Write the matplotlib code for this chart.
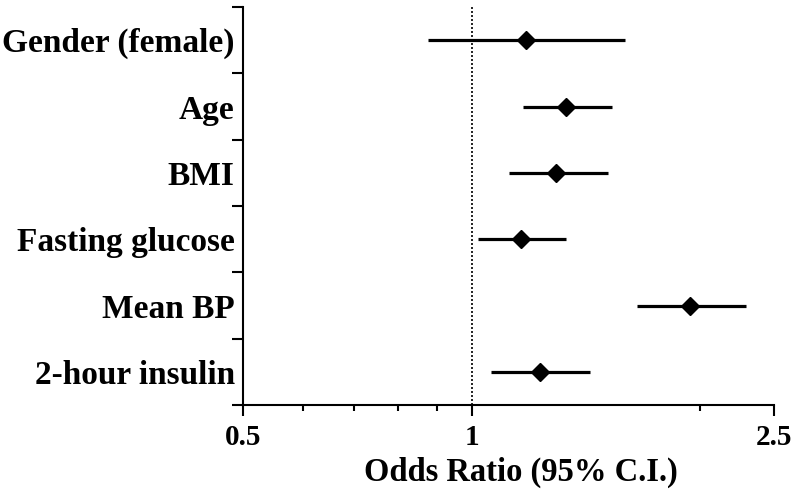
import matplotlib
matplotlib.use("Agg")
import matplotlib.pyplot as plt
from matplotlib.ticker import FixedLocator, NullFormatter
import numpy as np

# odds ratios with 95% confidence interval
labels = ["Gender (female)", "Age", "BMI", "Fasting glucose", "Mean BP", "2-hour insulin"]
odds = [1.18, 1.33, 1.29, 1.16, 1.94, 1.23]
lower = [0.875, 1.17, 1.12, 1.02, 1.65, 1.06]
upper = [1.59, 1.53, 1.51, 1.33, 2.30, 1.43]

xmajor = [0.5, 1, 2.5]
xminor = [0.6, 0.7, 0.8, 0.9, 2]

plt.rcParams["font.family"] = ["Liberation Serif", "DejaVu Serif"]
plt.rcParams["font.weight"] = "bold"

fig = plt.figure(figsize=(8, 5.04), dpi=100)
ax = fig.add_axes([243 / 800, 99 / 504, 531 / 800, 398 / 504])

n = len(labels)
ypos = n - 0.5 - np.arange(n)
odds = np.array(odds)
lower = np.array(lower)
upper = np.array(upper)

ax.axvline(1, color="black", linestyle=(0, (1.2, 1.2)), linewidth=1.2, zorder=1)
ax.errorbar(odds, ypos, xerr=[odds - lower, upper - odds], fmt="D", color="black",
            markersize=9, elinewidth=2.3, capsize=0, zorder=3)

ax.set_xscale("log")
ax.set_xlim(0.5, 2.5)
ax.set_ylim(0, n)
ax.xaxis.set_major_locator(FixedLocator(xmajor))
ax.xaxis.set_minor_locator(FixedLocator(xminor))
ax.set_xticklabels([str(v) for v in xmajor])
ax.xaxis.set_minor_formatter(NullFormatter())
ax.tick_params(axis="x", which="major", length=8, width=1.5, labelsize=21, pad=6)
ax.tick_params(axis="x", which="minor", length=4, width=1.5)

# boundaries between rows carry ticks, row centres carry the labels
ax.yaxis.set_major_locator(FixedLocator(np.arange(n + 1)))
ax.yaxis.set_major_formatter(NullFormatter())
ax.yaxis.set_minor_locator(FixedLocator(ypos))
ax.set_yticklabels(labels, minor=True)
ax.tick_params(axis="y", which="major", length=8, width=1.5)
ax.tick_params(axis="y", which="minor", length=0, labelsize=24, pad=6)

for s in ["top", "right"]:
    ax.spines[s].set_visible(False)
for s in ["left", "bottom"]:
    ax.spines[s].set_linewidth(1.5)

ax.set_xlabel("Odds Ratio (95% C.I.)", fontsize=23.5, fontweight="bold")
ax.xaxis.set_label_coords(0.523, -0.13)

plt.savefig("out.png", dpi=100)
